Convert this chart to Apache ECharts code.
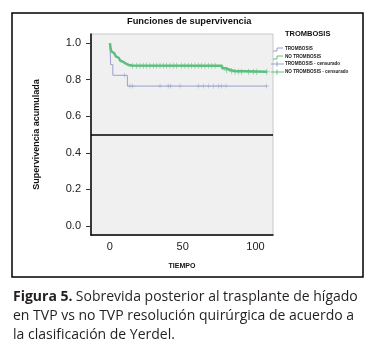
<!DOCTYPE html>
<html>
<head>
<meta charset="utf-8">
<script src="https://cdn.jsdelivr.net/npm/echarts@6/dist/echarts.min.js"></script>
<style>
  html, body { margin: 0; padding: 0; background: #fff; }
  #chart { width: 376px; height: 361px; }
</style>
</head>
<body>
<div id="chart"></div>
<script>
// curva Kaplan-Meier, grupo con trombosis
var thrombTime = [0, 0.5, 2, 12, 108];
var thrombSurv = [1.0, 0.882, 0.824, 0.765, 0.765];
// censurados con trombosis
var thrombCensTime = [10, 13.7, 15.6, 34.4, 40, 41.7, 48.1, 60.7, 64.1, 67.6, 71, 74.5, 76.8, 79.7, 107.7];
var thrombCensSurv = [0.824, 0.765, 0.765, 0.765, 0.765, 0.765, 0.765, 0.765, 0.765, 0.765, 0.765, 0.765, 0.765, 0.765, 0.765];
// curva sin trombosis
var noTime = [0, 0.5, 1, 2, 3, 4, 5, 6, 7, 8, 9, 10, 11, 12, 13, 15, 77, 80, 83, 86, 108];
var noSurv = [1.0, 0.97, 0.955, 0.945, 0.935, 0.928, 0.92, 0.912, 0.905, 0.898, 0.892, 0.888, 0.884, 0.88, 0.878, 0.876, 0.862, 0.852, 0.847, 0.843, 0.843];
// censurados sin trombosis
var noCensTime = [15.6, 18.3, 20.6, 22.9, 25.2, 27.5, 29.8, 32.1, 34.4, 36.7, 38.9, 41.2, 43.5, 45.8, 49.3, 51.5, 53.8, 56.1, 58.4, 60.7, 63, 65.3, 67.6, 70, 72.2, 80.2, 83.6, 85.9, 88.2, 90.5, 95.1, 98.5, 100.8, 107.7];
var noCensSurv = [0.876, 0.876, 0.876, 0.876, 0.876, 0.876, 0.876, 0.876, 0.876, 0.876, 0.876, 0.876, 0.876, 0.876, 0.876, 0.876, 0.876, 0.876, 0.876, 0.876, 0.876, 0.876, 0.876, 0.876, 0.876, 0.852, 0.847, 0.843, 0.843, 0.843, 0.843, 0.843, 0.843, 0.843];

var yTicks = [0, 0.2, 0.4, 0.6, 0.8, 1.0];
var xTicks = [0, 50, 100];
var legendNames = ['TROMBOSIS', 'NO TROMBOSIS', 'TROMBOSIS - censurado', 'NO TROMBOSIS - censurado'];
var captionLines = [
  'Sobrevida posterior al trasplante de hígado',
  'en TVP vs no TVP resolución quirúrgica de acuerdo a',
  'la clasificación de Yerdel.'
];

function pairs(a, b) {
  var out = [];
  for (var i = 0; i < a.length; i++) out.push([a[i], b[i]]);
  return out;
}

var blue = '#9b9fcc';
var green = '#5cbf80';
var narrow = '"Liberation Sans Narrow", "Liberation Sans", Arial, sans-serif';
var capFont = '"Open Sans", sans-serif';
var plus = 'path://M4,0h1v4h4v1h-4v4h-1v-4h-4v-1h4z';

var chart = echarts.init(document.getElementById('chart'));

// leyenda dibujada a mano
var legendGraphics = [];
var rowY = [49, 57, 64, 72];
var cols = [blue, green, blue, green];
for (var i = 0; i < 4; i++) {
  var y = rowY[i];
  if (i < 2) {
    legendGraphics.push({
      type: 'polyline',
      shape: { points: [[273, y + 2], [277, y + 2], [277, y - 1], [283, y - 1]] },
      style: { stroke: cols[i], lineWidth: 1, fill: null }
    });
  } else {
    legendGraphics.push({
      type: 'line',
      shape: { x1: 271, y1: y, x2: 284, y2: y },
      style: { stroke: cols[i], lineWidth: 1 }
    });
    legendGraphics.push({
      type: 'line',
      shape: { x1: 277, y1: y - 2.5, x2: 277, y2: y + 2.5 },
      style: { stroke: cols[i], lineWidth: 1 }
    });
  }
  legendGraphics.push({
    type: 'text', left: 285, top: y - 3,
    style: { text: legendNames[i], font: 'bold 4.6px ' + narrow, fill: '#222' }
  });
}

var option = {
  animation: false,
  grid: { left: 91, top: 34, width: 182, height: 201, show: true,
    backgroundColor: '#f0f0f0', borderColor: '#c9c9c9', borderWidth: 1 },
  xAxis: {
    type: 'value', min: -13, max: 112,
    name: 'TIEMPO', nameLocation: 'middle', nameGap: 28,
    nameTextStyle: { fontWeight: 'bold', fontSize: 7, fontFamily: narrow, color: '#111' },
    axisLine: { onZero: false, lineStyle: { color: '#000', width: 1.5 } },
    axisTick: { show: false },
    splitLine: { show: false },
    axisLabel: { customValues: xTicks, margin: 6, color: '#222', fontFamily: narrow, fontSize: 11 }
  },
  yAxis: {
    type: 'value', min: -0.05, max: 1.05,
    name: 'Supervivencia acumulada', nameLocation: 'middle', nameGap: 50, nameRotate: 90,
    nameTextStyle: { fontWeight: 'bold', fontSize: 9, fontFamily: narrow, color: '#111' },
    axisLine: { show: true, onZero: false, lineStyle: { color: '#000', width: 1.5 } },
    axisTick: { show: true, customValues: yTicks, length: 5, lineStyle: { color: '#333' } },
    splitLine: { show: false },
    axisLabel: { customValues: yTicks, margin: 10, color: '#222', fontFamily: narrow, fontSize: 11,
      formatter: function (v) { return v.toFixed(1); } }
  },
  graphic: [
    { type: 'rect', shape: { x: 12, y: 13, width: 351, height: 264 },
      style: { fill: null, stroke: '#000', lineWidth: 1.5 }, z: -1 },
    { type: 'text', left: 127, top: 17,
      style: { text: 'Funciones de supervivencia', font: 'bold 9.3px ' + narrow, fill: '#111' } },
    { type: 'text', left: 285, top: 30,
      style: { text: 'TROMBOSIS', font: 'bold 7.5px ' + narrow, fill: '#111' } },
    { type: 'text', left: 13, top: 290,
      style: { rich: {
        b: { font: 'bold 14px ' + capFont, fill: '#231f20' },
        n: { font: '14px ' + capFont, fill: '#231f20' }
      }, text: '{b|Figura 5.} {n|' + captionLines[0] + '}' } },
    { type: 'text', left: 13, top: 309,
      style: { text: captionLines[1], font: '14px ' + capFont, fill: '#231f20' } },
    { type: 'text', left: 13, top: 328,
      style: { text: captionLines[2], font: '14px ' + capFont, fill: '#231f20' } }
  ].concat(legendGraphics),
  series: [
    {
      name: legendNames[0], type: 'line', step: 'end', showSymbol: false,
      data: pairs(thrombTime, thrombSurv),
      lineStyle: { color: blue, width: 1 },
      markLine: {
        silent: true, symbol: 'none', label: { show: false },
        lineStyle: { color: '#000', type: 'solid', width: 1.5 },
        data: [{ yAxis: 0.5 }]
      }
    },
    {
      name: legendNames[1], type: 'line', step: 'end', showSymbol: false,
      data: pairs(noTime, noSurv),
      lineStyle: { color: green, width: 2.5 }
    },
    {
      name: legendNames[2], type: 'scatter', symbol: plus, symbolSize: 5,
      data: pairs(thrombCensTime, thrombCensSurv),
      itemStyle: { color: blue }
    },
    {
      name: legendNames[3], type: 'scatter', symbol: plus, symbolSize: 6,
      data: pairs(noCensTime, noCensSurv),
      itemStyle: { color: green }
    }
  ]
};
chart.setOption(option);
</script>
</body>
</html>
